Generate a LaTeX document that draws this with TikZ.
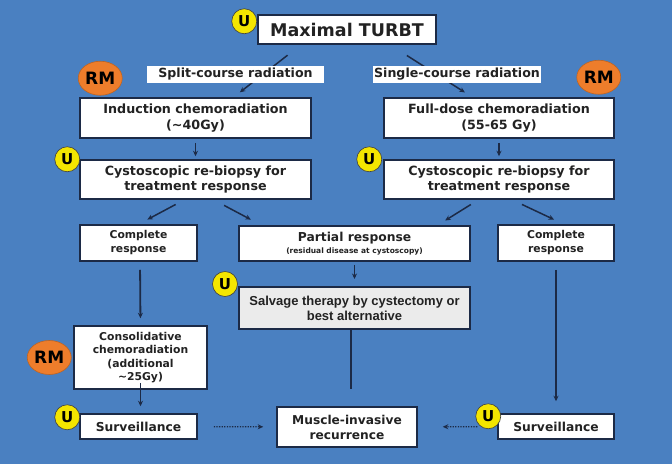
\documentclass[tikz,border=0pt]{standalone}
\usepackage{fontspec}
\setmainfont{DejaVu Sans}
\newfontfamily\arialfont{Liberation Sans}
\usetikzlibrary{positioning,arrows.meta,shapes.geometric}
\definecolor{slidebg}{HTML}{4A80C1}
\definecolor{navy}{HTML}{1C2A46}
\definecolor{ink}{HTML}{222222}
\definecolor{uyellow}{HTML}{F4E600}
\definecolor{rmorange}{HTML}{EE7D2B}
\definecolor{salvbg}{HTML}{EBEBEB}
\newcommand{\fs}[2]{\fontsize{#1}{#2}\selectfont}

\begin{document}
\begin{tikzpicture}[
  x=1pt,y=-1pt,
  font=\bfseries,
  box/.style={draw=navy,line width=1.5pt,fill=white,text=ink,align=center,inner sep=1pt},
  edge/.style={-{Stealth[length=5.5pt,width=5pt]},draw=navy,line width=1.5pt},
  dots/.style={edge,line width=1.3pt,dash pattern=on 1.3pt off 1.3pt},
  tag/.style={fill=white,text=ink,inner sep=1.5pt,font=\bfseries\fs{12.6}{14}},
  ubadge/.style={circle,draw=black!75,line width=0.6pt,fill=uyellow,minimum size=25pt,inner sep=0pt,text=black,font=\bfseries\fs{15}{15}},
  rmbadge/.style={ellipse,draw=rmorange!80!black,line width=0.6pt,fill=rmorange,minimum width=44pt,minimum height=34pt,inner sep=0pt,text=black,font=\bfseries\fs{17}{17}}
]
\fill[slidebg] (0,0) rectangle (672,464);
\useasboundingbox (0,0) rectangle (672,464);

% boxes
\node[box,minimum width=178pt,minimum height=29pt,font=\bfseries\fs{17.5}{18}] (turbt) at (347,29.5) {Maximal TURBT};
\node[box,minimum width=231pt,minimum height=40pt,font=\bfseries\fs{12.7}{16}] (induc) at (195.5,118) {Induction chemoradiation\\(\textasciitilde40Gy)};
\node[box,minimum width=230pt,minimum height=40pt,font=\bfseries\fs{12.7}{16}] (fulld) at (499,118) {Full-dose chemoradiation\\(55-65 Gy)};
\node[box,minimum width=231pt,minimum height=39pt,font=\bfseries\fs{12.7}{15.5}] (cystL) at (195.5,179.5) {Cystoscopic re-biopsy for\\treatment response};
\node[box,minimum width=230pt,minimum height=39pt,font=\bfseries\fs{12.7}{15.5}] (cystR) at (499,179.5) {Cystoscopic re-biopsy for\\treatment response};
\node[box,minimum width=117pt,minimum height=36pt,font=\bfseries\fs{10.8}{14}] (compL) at (138.5,243) {Complete\\response};
\node[box,minimum width=231pt,minimum height=35pt] (partial) at (354.5,243.5) {{\fs{12.3}{14}Partial response}\\{\fs{7.5}{9}(residual disease at cystoscopy)}};
\node[box,minimum width=116pt,minimum height=36pt,font=\bfseries\fs{10.8}{14}] (compR) at (556,243) {Complete\\response};
\node[box,fill=salvbg,line width=2pt,minimum width=231pt,minimum height=42pt,font=\arialfont\bfseries\fs{13}{15}] (salv) at (354.5,308) {Salvage therapy by cystectomy or\\best alternative};
\node[box,minimum width=133pt,minimum height=63pt,font=\bfseries\fs{10.8}{13.5}] (consol) at (140.5,357.5) {Consolidative\\chemoradiation\\(additional\\\textasciitilde25Gy)};
\node[box,minimum width=117pt,minimum height=25pt,font=\bfseries\fs{12.3}{14}] (survL) at (138.5,426.5) {Surveillance};
\node[box,minimum width=140pt,minimum height=40pt,font=\bfseries\fs{12.2}{15}] (muscle) at (347,427) {Muscle-invasive\\recurrence};
\node[box,minimum width=116pt,minimum height=25pt,font=\bfseries\fs{12.3}{14}] (survR) at (556,426.5) {Surveillance};

% connectors
\draw[edge,shorten <=17pt,shorten >=8pt] ([xshift=-46pt]turbt.south) -- ([xshift=38pt]induc.north);
\draw[edge,shorten <=20pt,shorten >=9pt] ([xshift=43pt]turbt.south) -- ([xshift=-26.5pt]fulld.north);
\draw[edge,shorten <=4pt,shorten >=3pt] (induc) -- (cystL);
\draw[edge,shorten <=4pt,shorten >=3pt] (fulld) -- (cystR);
\draw[edge,shorten <=10pt,shorten >=10pt] ([xshift=-11pt]cystL.south) -- (compL.north);
\draw[edge,shorten <=12pt,shorten >=12pt] ([xshift=18pt]cystL.south) -- ([xshift=-93pt]partial.north);
\draw[edge,shorten <=9pt,shorten >=9pt] ([xshift=-20.5pt]cystR.south) -- ([xshift=83pt]partial.north);
\draw[edge,shorten <=11pt,shorten >=11pt] ([xshift=13pt]cystR.south) -- ([xshift=8pt]compR.north);
\draw[edge,shorten <=3pt,shorten >=7pt] (partial) -- (partial |- salv.north);
\draw[edge,line width=1.8pt,shorten <=8pt,shorten >=7pt] ([xshift=1.5pt]compL.south) -- (consol.north);
\draw[edge,shorten <=-7pt,shorten >=7pt] (consol.south) -- (consol.south |- survL.north);
\draw[edge,line width=1.8pt,shorten <=8pt,shorten >=12pt] (compR) -- (survR);
\draw[navy,line width=2pt,shorten >=17pt] ([xshift=-3.5pt]salv.south) -- ([xshift=-3.5pt]salv.south |- muscle.north);
\draw[dots,shorten <=16pt,shorten >=13pt] (survL) -- (muscle);
\draw[dots,shorten <=20pt,shorten >=25pt] (survR) -- (muscle);

% labels on the branches
\node[tag,minimum width=177pt,minimum height=17pt] (split) at (235.5,74.5) {Split-course radiation};
\node[tag,minimum width=168pt,minimum height=17pt] (single) at (457,74.5) {Single-course radiation};

% badges
\node[ubadge] (u1) at ([shift={(-13,7)}]turbt.north west) {U};
\node[ubadge] (u2) at ([shift={(-12,0)}]cystL.north west) {U};
\node[ubadge] (u3) at ([shift={(-14,0)}]cystR.north west) {U};
\node[ubadge] (u4) at ([shift={(-13,-2)}]salv.north west) {U};
\node[ubadge] (u5) at ([shift={(-12,4)}]survL.north west) {U};
\node[ubadge] (u6) at ([shift={(-9,3)}]survR.north west) {U};
\node[rmbadge] (rm1) at ([shift={(21,-19)}]induc.north west) {RM};
\node[rmbadge] (rm2) at ([shift={(-16,-20)}]fulld.north east) {RM};
\node[rmbadge] (rm3) at ([shift={(-24,0)}]consol.west) {RM};
\end{tikzpicture}
\end{document}
